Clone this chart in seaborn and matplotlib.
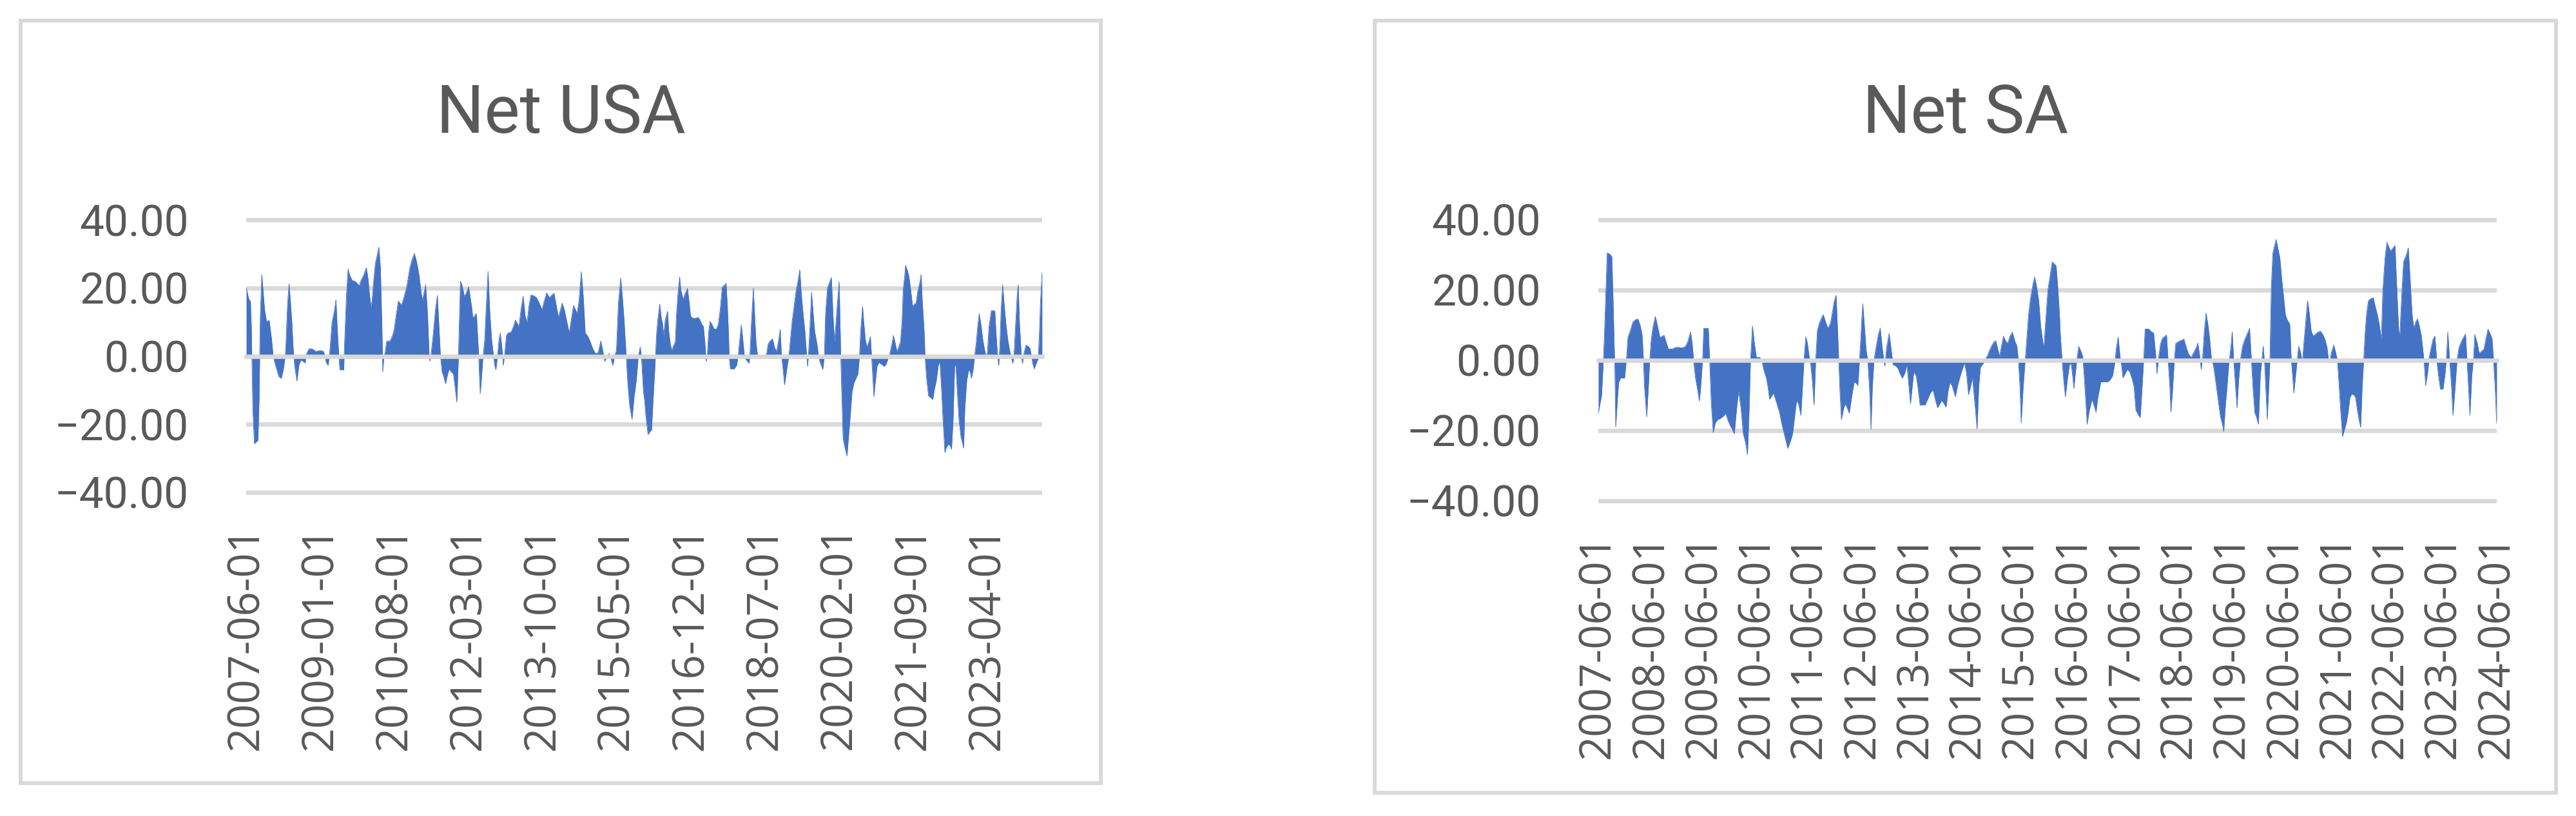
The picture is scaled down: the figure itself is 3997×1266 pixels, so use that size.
import numpy as np
import pandas as pd
import matplotlib
matplotlib.use("Agg")
import matplotlib.pyplot as plt
import matplotlib.dates as mdates
from matplotlib.patches import Rectangle
import seaborn as sns

# values: months since 2007-06-01 and the net figure there
usa_months = [
    0.0, 0.6, 1.1, 1.3, 1.7, 2.1, 3.0, 3.3, 3.6, 4.0,
    4.7, 5.2, 5.9, 6.5, 6.9, 7.6, 8.4, 9.0, 9.5, 10.0,
    10.2, 10.6, 11.0, 11.7, 12.0, 12.4, 13.0, 13.5, 14.0, 14.6,
    15.1, 15.5, 16.1, 16.8, 17.9, 19.0, 19.8, 20.2, 20.5, 21.0,
    21.4, 22.0, 22.6, 23.0, 23.5, 24.0, 25.0, 25.2, 25.7, 26.1,
    26.6, 27.2, 27.9, 28.5, 29.0, 29.4, 30.1, 30.8, 31.2, 31.6,
    32.0, 32.3, 32.7, 33.1, 33.6, 34.0, 34.4, 34.8, 35.0, 35.3,
    35.6, 36.0, 36.9, 37.5, 37.9, 38.4, 39.0, 39.8, 40.4, 41.2,
    41.9, 42.5, 43.1, 43.7, 44.3, 44.9, 45.2, 45.6, 46.0, 46.5,
    46.9, 47.1, 47.4, 47.9, 48.5, 49.0, 49.4, 49.8, 50.2, 50.6,
    51.1, 51.5, 52.0, 52.6, 53.1, 53.6, 54.0, 54.4, 54.9, 55.2,
    55.6, 55.9, 56.5, 57.0, 57.4, 57.8, 58.1, 58.7, 59.0, 59.4,
    59.6, 59.8, 60.0, 60.3, 60.7, 61.1, 61.6, 62.0, 62.4, 62.9,
    63.4, 63.7, 64.0, 64.4, 64.8, 65.1, 65.5, 65.9, 66.2, 66.7,
    67.1, 67.9, 68.5, 69.0, 69.5, 69.9, 70.5, 71.0, 71.5, 72.0,
    72.5, 73.0, 73.6, 74.4, 75.1, 75.8, 76.4, 77.0, 77.7, 78.2,
    78.9, 79.5, 80.0, 80.5, 81.0, 81.6, 82.1, 82.8, 83.2, 83.9,
    84.5, 84.8, 85.3, 85.9, 86.4, 86.9, 87.6, 88.2, 88.8, 89.5,
    90.2, 90.9, 91.5, 91.9, 92.4, 93.0, 93.5, 94.0, 94.4, 94.9,
    95.4, 96.0, 96.5, 96.9, 97.4, 97.8, 98.3, 98.9, 99.4, 100.0,
    100.5, 101.0, 101.3, 101.8,
    102.1, 102.4, 103.0, 103.6, 103.9, 104.3, 104.7, 104.9, 105.2, 105.5,
    106.0, 106.4, 106.7, 107.0, 107.4, 108.0, 108.3, 108.7, 109.1, 109.5,
    110.0, 110.3, 110.7, 111.1, 111.4, 111.7, 112.0, 112.4, 112.8, 113.1,
    113.5, 113.9, 114.3, 114.8, 115.4, 115.9, 116.3, 116.8, 117.2, 117.6,
    117.8, 117.9, 118.2, 118.5, 118.9, 119.4, 119.9, 120.5, 121.0, 121.5,
    122.0, 122.5, 123.0, 123.3, 123.6, 123.8, 124.1, 125.1, 125.7, 126.1,
    126.4, 126.9, 127.3, 127.7, 128.0, 128.5, 128.9, 129.1, 129.5, 130.0,
    130.3, 130.7, 131.1, 133.1, 133.4, 133.8, 134.3, 134.9, 135.4, 135.9,
    136.1, 136.5, 136.9, 137.2, 137.5, 138.0, 138.4, 138.7, 139.1, 139.5,
    139.9, 140.4, 140.9, 141.4, 141.9, 142.3, 142.8, 143.2, 143.6, 143.9,
    144.1, 144.5, 144.9, 145.3, 145.7, 146.3, 146.7, 147.2, 147.8, 148.2,
    148.5, 149.0, 149.5, 150.0, 150.4, 150.8, 151.1, 151.5, 152.0, 152.4,
    152.7, 153.0, 153.5, 154.0, 154.4, 154.9, 155.3, 155.8, 156.3, 156.8,
    157.2, 157.5, 158.0, 158.3, 158.7, 159.1, 159.6, 160.0, 160.3, 160.6,
    160.9, 161.3, 161.7, 162.2, 162.9, 163.5, 164.0, 164.5, 165.0, 165.5,
    165.9, 166.4, 166.8, 167.3, 167.7, 168.1, 168.4, 168.8, 169.0, 169.5,
    169.9, 170.4, 170.8, 171.3, 171.7, 172.1, 172.6, 173.0, 173.3, 173.8,
    174.0, 174.4, 174.9, 175.5, 176.0, 176.4, 176.9, 177.4, 177.8, 178.2,
    178.6, 179.1, 179.5, 180.0, 180.5, 180.8, 181.2, 181.6, 181.9, 182.2,
    182.7, 183.2, 183.6, 183.9, 184.2, 184.7, 185.2, 185.6, 185.9, 186.4,
    186.7, 187.1, 187.5, 187.9, 188.4, 188.8, 189.2, 189.6, 190.0, 190.4,
    191.0, 191.5, 191.9, 192.2, 192.6, 192.9, 193.2, 193.5, 193.9, 194.3,
    194.7, 195.2, 195.6, 196.0, 196.5, 196.8, 197.2, 197.6, 197.9, 198.2,
    198.7, 199.0, 199.4, 199.9, 200.5, 200.9, 201.3, 201.6, 202.0, 202.5,
    203.0, 203.3, 203.6, 204.0,
]
usa_net = [
    20.2, 17, 16, 9, -16, -25.7, -24.7, -12.8, 11.5, 24,
    13.7, 10.2, 10.5, 5, 0, -3, -6, -6.5, -4, 0,
    4, 15.6, 21.3, 10, 3, -2.7, -7.3, -2.7, -1.1, -1.5,
    -2, 0.8, 2.2, 2.2, 1.4, 1.7, 1.4, 0, -1.8, -2.7,
    1, 10, 13.4, 16.6, 4.5, -4, -4, 3.6, 18, 25.6,
    23.5, 22.2, 22, 21.3, 20.7, 22.2, 23.8, 26, 22.9, 18,
    14.3, 16.9, 22.6, 27.3, 29.8, 32, 26, 8, -4.6, 0,
    1, 4.4, 4.5, 6.1, 7.7, 11.8, 16.2, 15, 17.2, 20.7,
    25.7, 28.3, 30.2, 27.6, 23.8, 18.1, 16.6, 18.8, 21, 11.8,
    0, -1.5, 0.8, 6.1, 13.7, 17.8, 8.7, 0, -4.6, -5.9,
    -8.1, -5.9, -3.7, -4.6, -5.2, -9.7, -13.5, 0, 22, 21.3,
    19.4, 17.5, 18.8, 20.4, 17.5, 14.3, 11.2, 12.1, 12.5, 4.2,
    0, -6.5, -11, -6.5, 0, 4.2, 16.2, 24.9, 13.7, 4.9,
    0, -2.7, -4, 0, 4.9, 6.8, 3, -2.7, 0, 6.1,
    6.8, 7.1, 8.7, 10.6, 9.6, 8.7, 14.3, 17.6, 11.8, 9.9,
    15, 18, 17.8, 17.2, 15.6, 13.7, 16.2, 18.6, 17.2, 17.8,
    18.5, 14.7, 11.5, 13.4, 15.6, 13.4, 10.6, 6.8, 9.9, 14.9,
    13.4, 12.5, 16.2, 24.8, 17.5, 6.8, 5.8, 4.2, 2.3, 0.8,
    1, 4.5, 1, -1.5, -0.5, 0.8, -0.8, -2.7, 0, 1.7,
    15.6, 23, 16.2, 9.9, 0, -7.8, -14.7, -18.5, -12.2, -7.1,
    0, 2.7, 0, -10.3,
    -12.8, -17, -23, -22, -21.7, -12.8, -4.6, 0, 6.8, 10.6,
    15.3, 11.2, 9.6, 6.1, 10.6, 13.2, 7.4, 3.6, 1.7, 3,
    4.2, 12.5, 18.8, 23.3, 19.4, 18.1, 16.6, 18.1, 19.1, 19.9,
    16.2, 11.8, 11.3, 11.1, 11.2, 11.4, 10.6, 9.3, 8.7, 3.6,
    0, -1.5, 0, 6.8, 10.2, 9.3, 8, 8, 9.3, 13.7,
    20.2, 20.7, 21.4, 15.6, 7.4, 0, -3.7, -3.7, -2.7, 0,
    3.6, 9.2, 4.9, 0, -0.8, -1.5, -2.1, 0, 9.9, 20,
    12.5, 3.6, 0, 0, 0.8, 3.6, 4.5, 5.1, 2.7, 1.4,
    2.3, 4.9, 7.9, 0, -2.7, -8.4, -5.2, -2.7, 0, 4.9,
    9.9, 14.3, 18.8, 21.9, 25.4, 18.1, 11.8, 7.4, 1.1, -3,
    0, 8.7, 18.8, 13.1, 7.4, 3.6, 0, -2.1, -3.9, 0,
    12.5, 20, 21.6, 23.1, 12.5, 4.2, 8.7, 15, 21.9, 0,
    -12.8, -24.2, -27, -29.3, -23.6, -16.6, -10.3, -7.8, -6.5, -5.2,
    0, 7.4, 14.7, 9.9, 4.9, 2.7, 4.2, 5.8, 0, -5.9,
    -11.9, -7.1, -3, -1.8, -2.4, -3, -2.4, -0.8, 0.8, 3.6,
    6.1, 3.6, 1.4, 2.8, 4.2, 9.9, 19.4, 23.8, 26.7, 25.1,
    23.2, 18.8, 14.7, 15.3, 15.6, 18.8, 21.3, 24, 16.2, 6.8,
    0, -6.5, -11.6, -12.2, -12.7, -9.7, -7.1, -2.7, -1.5, -9,
    -18.5, -28.3, -26.7, -25.8, -26.4, -27.4, -18.5, -2.7, -2.7, -9,
    -18.5, -23.6, -25.5, -27, -15.4, -7.1, -4, -4.6, -6.5, -3.4,
    0, 3.6, 8.7, 12.5, 8.7, 4.9, 2.3, 0, 1.1, 8.7,
    13.4, 13.4, 13.2, 6.8, 0, -2.7, 3.6, 13.7, 21, 15,
    9.9, 4.9, 2.3, 0, -2.1, 0, 8.7, 17.5, 21, 9.9,
    0, -2.1, 1.1, 3.3, 2.8, 2.3, 0, -2.1, -3.7, -2.1,
    -0.8, 6.1, 16.2, 24.6,
]

sa_months = [
    0.0, 0.75, 1.12, 1.35, 1.65, 2.02, 2.62, 3.07, 3.37, 3.59,
    3.74, 3.96, 4.34, 4.64, 5.09, 5.68, 5.98, 6.36, 6.73, 7.26,
    7.85, 8.38, 8.98, 9.5, 9.95, 10.25, 10.47, 10.99, 11.37, 11.67,
    11.97, 12.34, 12.94, 13.46, 13.99, 14.58, 14.96, 15.33, 15.93, 16.83,
    17.58, 18.32, 19.07, 19.82, 20.34, 20.94, 21.32, 21.69, 22.06, 22.59,
    22.96, 23.34, 23.71, 23.93, 24.46, 24.98, 25.28, 25.65, 26.1, 26.55,
    27.08, 27.67, 28.42, 28.95, 29.39, 29.92, 30.44, 30.89, 31.41, 31.86,
    32.39, 32.91, 33.43, 33.88, 34.26, 34.55, 34.78, 35.0, 35.38, 35.9,
    36.65, 37.1, 37.55, 38.14, 38.52, 38.89, 39.34, 39.79, 40.39, 41.14,
    41.73, 42.33, 43.01, 43.53, 44.13, 44.58, 45.03, 45.47, 46.0, 46.37,
    46.75, 47.12, 47.49, 47.87, 48.24, 48.62, 48.99, 49.36, 49.74, 50.11,
    50.71, 51.08, 51.61, 52.13, 52.73, 53.1, 53.55, 54.0, 54.3, 54.6,
    54.82, 55.2, 55.72, 56.1, 56.54, 56.99, 57.59, 58.11, 58.56, 58.94,
    59.24, 59.54, 59.84, 60.06, 60.43, 60.81, 61.18, 61.56, 61.93, 62.23,
    62.6, 63.05, 63.57, 64.02, 64.47, 64.85, 65.07, 65.45, 66.04, 66.57,
    66.94, 67.46, 68.06, 68.51, 69.04, 69.56, 70.08, 70.53, 70.9, 71.28,
    71.65, 72.18, 72.55, 73.07, 73.67, 74.2, 74.79, 75.39, 75.99, 76.51,
    77.04, 77.56, 78.01, 78.53, 78.98, 79.43, 79.88, 80.4, 81.08, 81.53,
    82.05, 82.65, 83.17, 83.62, 84.07, 84.52, 84.97, 85.42, 86.01, 86.39,
    86.76, 87.51, 87.96, 88.41, 88.86, 89.38, 89.9, 90.28, 90.65, 91.1,
    91.47, 92.0, 92.52, 92.97, 93.49, 94.02, 94.61, 95.06, 95.44, 95.74,
    96.04, 96.48, 96.93, 97.23, 97.68, 98.13, 98.73, 99.1, 99.48, 100.0,
    100.45, 100.97, 101.2, 101.57, 102.09, 102.62, 103.07, 103.59, 103.96, 104.34,
    104.71,
    104.89, 105.3, 105.72, 106.06, 106.56, 107.06, 107.4, 107.65, 107.99, 108.32,
    108.66, 109.08, 109.58, 110.0, 110.33, 110.67, 111.0, 111.42, 112.09, 112.6,
    113.02, 113.44, 114.11, 114.94, 115.61, 116.2, 116.79, 117.29, 117.63, 118.05,
    118.46, 118.8, 119.14, 119.64, 120.14, 120.64, 121.15, 121.65, 122.07, 122.57,
    123.07, 123.49, 123.83, 124.16, 125.0, 125.59, 126.09, 126.51, 126.85, 127.27,
    127.68, 128.1, 128.52, 129.03, 129.45, 129.78, 130.03, 130.45, 130.79, 131.12,
    131.71, 132.38, 132.97, 133.55, 134.06, 134.64, 135.23, 135.73, 136.15, 136.57,
    136.91, 137.24, 137.58, 138.0, 138.41, 138.83, 139.25, 139.67, 140.09, 140.68,
    141.26, 141.77, 142.02, 142.35, 142.77, 143.19, 143.61, 143.95, 144.28, 144.7,
    145.04, 145.37, 145.79, 146.21, 146.63, 147.13, 147.55, 147.89, 148.3, 148.64,
    149.06, 149.48, 149.9, 150.32, 150.74, 150.99, 151.32, 151.66, 151.91, 152.25,
    152.5, 152.83, 153.17, 153.5, 153.92, 154.34, 154.76, 155.18, 155.6, 156.02,
    156.44, 157.02, 157.36, 157.69, 157.95, 158.28, 158.7, 159.03, 159.45, 159.87,
    160.21, 160.63, 161.05, 161.46, 161.88, 162.3, 162.89, 163.39, 163.98, 164.57,
    165.07, 165.49, 165.82, 166.08, 166.49, 167.0, 167.42, 167.84, 168.17, 168.59,
    169.01, 169.43, 169.85, 170.27, 170.69, 171.11, 171.61, 171.94, 172.36, 172.78,
    173.12, 173.45, 173.79, 174.12, 174.46, 174.88, 175.46, 175.97, 176.55, 176.97,
    177.39, 177.81, 178.15, 178.65, 179.07, 179.49, 179.91, 180.33, 180.91, 181.33,
    181.75, 182.0, 182.42, 182.84, 183.43, 183.93, 184.35, 184.77, 185.19, 185.61,
    186.03, 186.45, 186.86, 187.2, 187.53, 187.87, 188.29, 188.71, 189.21, 189.55,
    189.97, 190.38, 190.8, 191.22, 191.81, 192.23, 192.56, 192.9, 193.32, 193.74,
    194.07, 194.57, 194.99, 195.41, 196.0, 196.5, 196.92, 197.26, 197.59, 197.93,
    198.35, 198.77, 199.02, 199.6, 200.02, 200.61, 201.11, 201.53, 202.03, 202.54,
    202.96, 203.29, 203.63, 204.0,
]
sa_net = [
    -15.1, -9.9, -0.7, 6, 17, 30.6, 30.2, 29.5, 16.4, 4.8,
    -1.3, -19, -11.1, -6.2, -5, -5.1, -5, 0, 6.6, 8.4,
    10.9, 11.5, 11.8, 10, 7.2, 0, -7.5, -16.1, -7.5, 0,
    5.4, 9, 12.5, 9.7, 6.5, 6.9, 7.1, 5.4, 3.2, 3.2,
    3.7, 3.7, 3.5, 4, 5.4, 8.1, 4.8, -0.7, -5, -8.7,
    -11.6, -6.2, 1.1, 9.1, 9.1, 9.1, 0, -12.4, -20.6, -17.9,
    -16.9, -16.6, -15.9, -15.1, -16.9, -18.5, -19.7, -20.9, -13.6, -8.7,
    -13.6, -20.9, -23.4, -26.9, -13.6, 0, 4.8, 9.8, 5.4, 0.8,
    0.8, 0.2, -2.6, -5, -7.5, -11.1, -10.2, -9.3, -11.7, -14.8,
    -18.5, -21.5, -25.1, -23.4, -20.9, -16, -11.4, -12.4, -15.7, -7.5,
    1.1, 6.7, 4.8, 1.1, -1.3, -6.2, -12.7, 0, 8.4, 10.3,
    12.1, 13, 10.9, 9.1, 10.6, 13.3, 16.7, 18.5, 9.7, 0,
    -7.5, -16.9, -13.6, -12.4, -13.6, -15.1, -9.9, -6.2, -6.5, -7.2,
    -1.3, 4.8, 12.1, 16.1, 9.7, 2.9, 0, -7.5, -19.7, -7.5,
    0, 3.5, 7.2, 9.2, 3.5, 0, -1.7, 3.5, 7.7, 2.3,
    -1.3, -1.5, -2.3, -3.8, -5.1, -3.8, -1.3, -7.5, -12.4, -7.5,
    -3.2, -4.4, -7.5, -12.8, -12.7, -12.7, -11.1, -9.3, -8.4, -11.1,
    -13.5, -12.4, -11.4, -12.4, -13.3, -8.7, -6.2, -7.5, -10.4, -7.5,
    -5, -2.6, -0.7, -3.8, -9.8, -7.5, -5, -11.1, -19.6, -7.5,
    -2, -0.7, 0.5, 1.4, 2.9, 4.3, 5.3, 5.5, 3.5, 1.1,
    3.5, 6.9, 5.4, 4.8, 6.9, 8, 5.4, 4, -0.7, -7.5,
    -17.9, -7.5, 0, 4.8, 12.7, 17.6, 21.9, 23.7, 21.3, 17,
    9.7, 4.8, 3.9, 10.9, 20.1, 24.3, 28, 27.4, 26.8, 20.7,
    13.3,
    7.8, 0, -6.2, -10.4, -5, -0.7, -1.3, -3.8, -8.1, -3.8,
    0, 4, 2.6, 1.1, -4.4, -11.1, -18.2, -14.8, -11.1, -13,
    -14.8, -10.5, -6.2, -6.1, -6.2, -5.6, -4.4, -0.7, 3.5, 6.6,
    1.1, -1.3, -5, -3.8, -2.6, -3.2, -5, -7.5, -14.2, -15.4,
    -16.3, -7.5, 0, 8.9, 8.9, 8.1, 7.8, 2.3, -3.8, 1.1,
    4.8, 6.3, 6.7, 7.2, -1.3, -7.5, -14.8, -7.5, 0, 4.8,
    5.3, 5.7, 6, 3.5, 1.7, 0.8, 2.3, 3.5, 4.9, 1.1,
    -2.6, 1.1, 7.8, 13.5, 10.3, 6, 0, -1.3, -5, -10.5,
    -16, -18.5, -20.3, -13.6, -7.5, -0.7, 3.5, 8.1, 0, -7.5,
    -13.6, -6.2, 0, 3.5, 5.4, 6.9, 8.1, 9.1, 0, -7.5,
    -14.8, -16.3, -18.2, -4.4, 1.1, 4, -1.3, -10.5, -16.9, -7.5,
    0, 21.3, 30.5, 32.3, 34.4, 31.7, 29.2, 23.1, 18.2, 13,
    11.5, 10.3, 0, -5, -9.4, -5, 0, 4, 2.3, -0.7,
    4.8, 10.9, 17, 13.3, 8.4, 6.9, 7.5, 8, 8.3, 7.2,
    5.7, 3.5, 0, -0.7, 2.3, 4.4, 2.3, 0, -6.2, -14.8,
    -21.7, -19.7, -17.9, -14.8, -10.5, -9.6, -9.9, -10.5, -14.2, -17.2,
    -19.1, -7.5, 0, 7.8, 13.3, 17, 17.6, 17.8, 14.6, 12.7,
    9.7, 6, 20.1, 29.2, 33.6, 32.3, 31.1, 31.8, 32.7, 20.1,
    8.4, 7.1, 18.2, 28, 29.8, 32, 23.1, 13.3, 9.1, 10.9,
    11.8, 9.7, 7.2, 3.5, -0.7, -7.2, -3.8, 1.1, 4.2, 6,
    6.9, 0, -4.4, -8.2, -8.2, -4.4, 0, 8.1, 0, -7.5,
    -15.7, -7.5, 0, 3.5, 5.4, 6.6, 7.5, 0, -7.5, -15.7,
    -4.4, 1.1, 7.3, 4.8, 2, 2.6, 3.2, 6, 8.9, 7.5,
    6.1, 0, -7.5, -18,
]

assert len(usa_months) == len(usa_net)
assert len(sa_months) == len(sa_net)

start, end = "2007-06-01", "2024-06-01"
usa_ticks = pd.date_range(start, end, freq="19MS")
sa_ticks = pd.date_range(start, end, freq="12MS")
y_ticks = [-40, -20, 0, 20, 40]
y_labels = ["\u221240.00", "\u221220.00", "0.00", "20.00", "40.00"]

BLUE = "#4472C4"
GRID = "#D9D9D9"
TEXT = "#595959"

sns.set_style("white")
plt.rcParams["font.family"] = ["Roboto", "DejaVu Sans"]


def to_dates(months):
    return pd.Timestamp(start) + pd.to_timedelta(np.asarray(months) * 30.4375, unit="D")


fig = plt.figure(figsize=(39.98, 12.66), dpi=100)


def draw_panel(rect, months, values, ticks, title, title_x, box):
    ax = fig.add_axes(rect)
    dates = to_dates(months)

    for yv in y_ticks:
        ax.axhline(yv, color=GRID, lw=4.8, zorder=0)
    ax.fill_between(dates, values, 0, color=BLUE, lw=0, zorder=1)
    sns.lineplot(x=dates, y=values, color=BLUE, lw=0.6, estimator=None,
                 sort=False, ax=ax, zorder=1.2)

    ax.set_xlim(pd.Timestamp(start), pd.Timestamp(end))
    ax.set_ylim(-42, 42)
    ax.set_xlabel("")
    ax.set_ylabel("")
    ax.set_yticks(y_ticks, y_labels)
    ax.tick_params(axis="y", length=0, pad=64, labelsize=48.6, labelcolor=TEXT)

    for side in ["left", "right", "top"]:
        ax.spines[side].set_visible(False)
    # category axis crosses at zero, tick marks hang from it
    ax.spines["bottom"].set_position(("data", 0))
    ax.spines["bottom"].set_color(GRID)
    ax.spines["bottom"].set_linewidth(4.8)
    tick_nums = mdates.date2num(ticks)
    ax.set_xticks(tick_nums)
    ax.tick_params(axis="x", direction="out", length=17.6, width=5,
                   color=GRID, labelbottom=False)

    # labels sit at the bottom of the plot area
    sec = ax.secondary_xaxis("bottom")
    sec.set_xticks(tick_nums, labels=[t.strftime("%Y-%m-%d") for t in ticks],
                   fontfamily=["Open Sans", "DejaVu Sans"])
    sec.tick_params(length=0, pad=29, labelsize=48.2, labelcolor=TEXT,
                    labelrotation=90)
    sec.spines["bottom"].set_visible(False)

    fig.text(title_x, 0.8373, title, ha="center", va="baseline",
             fontsize=75, color=TEXT)
    fig.add_artist(Rectangle(box[:2], box[2], box[3], transform=fig.transFigure,
                             fill=False, ec=GRID, lw=4.3))
    return ax


draw_panel([0.09555, 0.3882, 0.3089, 0.3506], usa_months, usa_net, usa_ticks,
           "Net USA", 0.2176, (0.0080, 0.0399, 0.4192, 0.9348))
draw_panel([0.6203, 0.3777, 0.3487, 0.3616], sa_months, sa_net, sa_ticks,
           "Net SA", 0.7628, (0.5335, 0.0284, 0.4585, 0.9463))

fig.savefig("out.png", dpi=100)
